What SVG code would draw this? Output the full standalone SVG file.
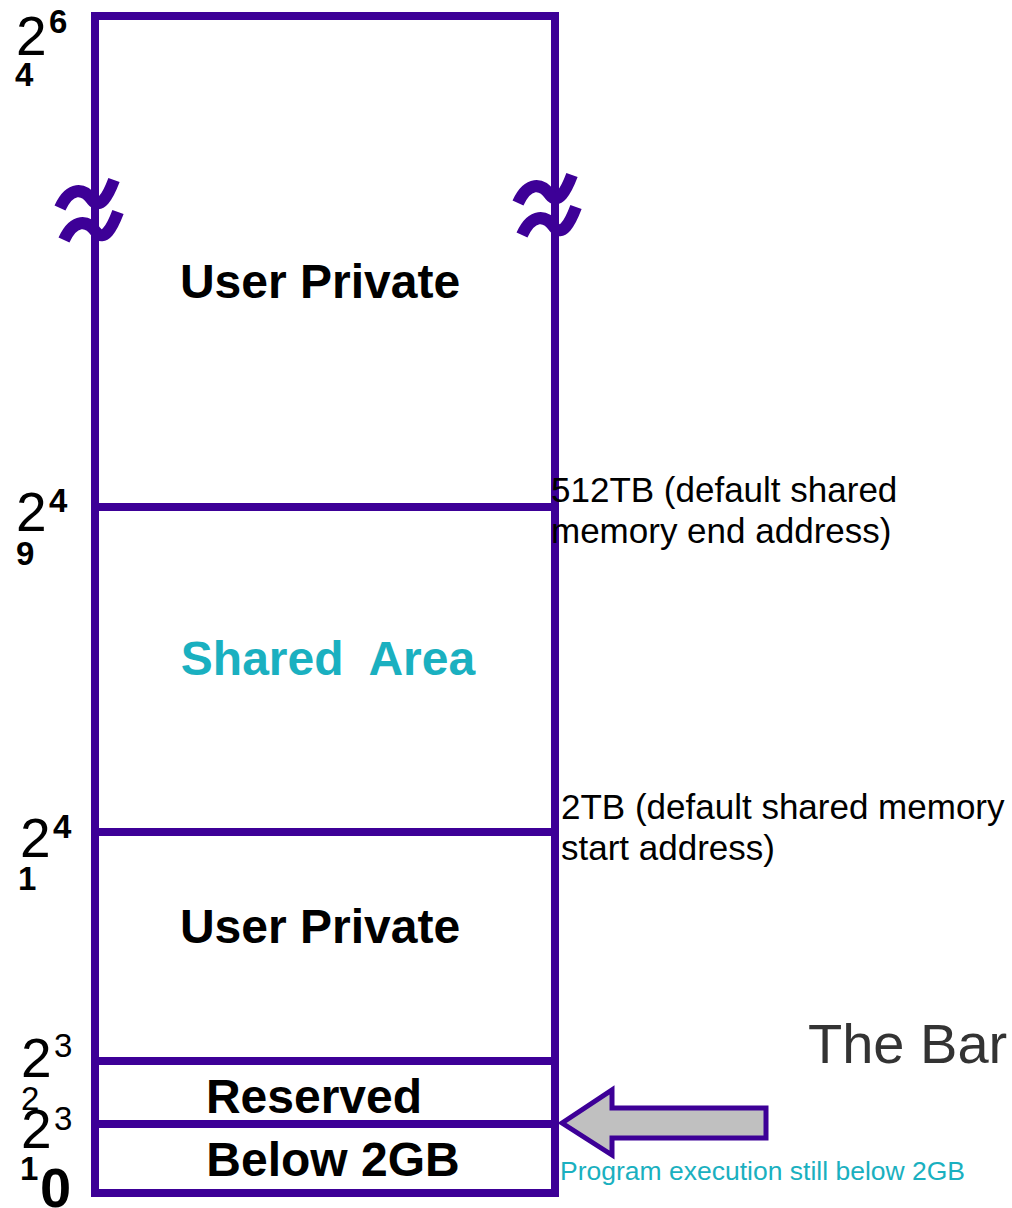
<svg xmlns="http://www.w3.org/2000/svg" width="1012" height="1208" viewBox="0 0 1012 1208">
<style>
.ln{stroke:#3D0097;stroke-width:8;fill:none}
.brk{stroke:#3D0097;stroke-width:12;fill:none}
.lbl{font-family:"Liberation Sans",Arial,sans-serif;font-weight:bold;font-size:48px;fill:#000}
.big{font-family:"Liberation Sans",Arial,sans-serif;font-size:55px;fill:#000}
.sup{font-family:"Liberation Sans",Arial,sans-serif;font-weight:bold;font-size:33px;fill:#000}
.supr{font-family:"Liberation Sans",Arial,sans-serif;font-size:33px;fill:#000}
.note{font-family:"Liberation Sans",Arial,sans-serif;font-size:35px;fill:#000}
</style>
<rect width="1012" height="1208" fill="#fff"/>
<g id="memory-column">
<rect class="ln" x="95" y="16" width="460" height="1177"/>
<line class="ln" x1="95" y1="507" x2="555" y2="507"/>
<line class="ln" x1="95" y1="832" x2="555" y2="832"/>
<line class="ln" x1="95" y1="1061" x2="555" y2="1061"/>
<line class="ln" x1="95" y1="1124" x2="555" y2="1124"/>
</g>
<g id="breaks">
<path class="brk" d="M60 208 C70 186 84 188 92 200 C100 210 108 196 114 180"/>
<path class="brk" d="M64 240 C74 218 88 220 96 232 C104 242 112 228 118 212"/>
<path class="brk" d="M518 203 C528 181 542 183 550 195 C558 205 566 191 572 175"/>
<path class="brk" d="M522 235 C532 213 546 215 554 227 C562 237 570 223 576 207"/>
</g>
<g id="region-user-private-top"><text class="lbl" x="320" y="298" text-anchor="middle">User Private</text></g>
<g id="region-shared"><text class="lbl" x="328" y="675" text-anchor="middle" style="fill:#1AB0C0;white-space:pre">Shared  Area</text></g>
<g id="region-user-private-bottom"><text class="lbl" x="320" y="943" text-anchor="middle">User Private</text></g>
<g id="region-reserved"><text class="lbl" x="314" y="1113" text-anchor="middle">Reserved</text></g>
<g id="region-below"><text class="lbl" x="333" y="1176" text-anchor="middle">Below 2GB</text></g>
<g id="axis-labels">
<text class="big" x="16" y="55">2</text><text class="sup" x="49" y="33">6</text><text class="sup" x="15" y="86">4</text>
<text class="big" x="16" y="531">2</text><text class="sup" x="49" y="512">4</text><text class="sup" x="16" y="565">9</text>
<text class="big" x="20" y="857">2</text><text class="sup" x="53" y="838">4</text><text class="sup" x="18" y="890">1</text>
<text class="big" x="21" y="1077">2</text><text class="supr" x="54" y="1057">3</text><text class="supr" x="21" y="1110">2</text>
<text class="big" x="21" y="1148">2</text><text class="supr" x="54" y="1130">3</text><text class="sup" x="20" y="1180">1</text>
<text x="40" y="1207" style="font-family:'Liberation Sans',Arial,sans-serif;font-weight:bold;font-size:56px;fill:#000">0</text>
</g>
<g id="annotations">
<text class="note" x="551" y="502">512TB (default shared</text>
<text class="note" x="551" y="543">memory end address)</text>
<text class="note" x="561" y="819">2TB (default shared memory</text>
<text class="note" x="561" y="860">start address)</text>
<text x="808" y="1063" style="font-family:'Liberation Sans',Arial,sans-serif;font-size:56px;fill:#333">The Bar</text>
</g>
<g id="connectors">
<path d="M562 1123 L612 1090 L612 1108 L766 1108 L766 1138 L612 1138 L612 1155 Z" fill="#C0C0C0" stroke="#3D0097" stroke-width="5" stroke-linejoin="miter"/>
<text x="560" y="1180" style="font-family:'Liberation Sans',Arial,sans-serif;font-size:26.5px;fill:#1AB0C0">Program execution still below 2GB</text>
</g>
</svg>
